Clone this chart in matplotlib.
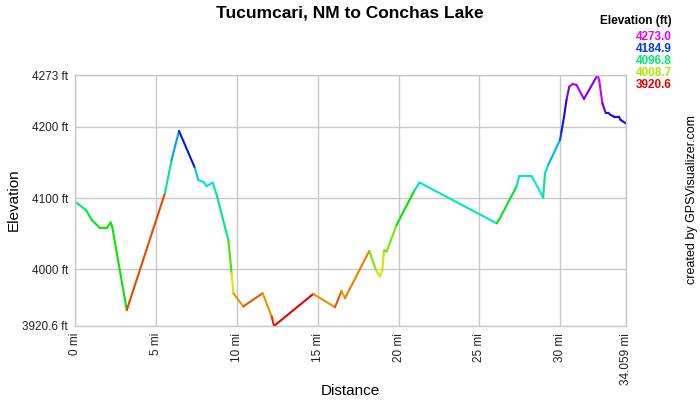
import numpy as np
import matplotlib.pyplot as plt
from matplotlib.collections import LineCollection
import colorsys

plt.rcParams["font.family"] = ["Liberation Sans", "DejaVu Sans"]

# track profile (miles, feet)
dist = [0.0, 0.68, 1.03, 1.55, 1.96, 2.2, 2.3, 3.2, 5.56, 5.97, 6.43, 7.42, 7.62,
        7.93, 8.14, 8.51, 8.76, 9.48, 9.68, 9.79, 10.4, 11.6, 12.16, 12.3, 14.73,
        16.07, 16.48, 16.69, 18.19, 18.6, 18.85, 19.0, 19.1, 19.26, 19.88, 21.0,
        21.3, 26.06, 26.27, 27.3, 27.46, 28.23, 28.94, 29.05, 29.25, 29.98, 30.07,
        30.23, 30.38, 30.55, 30.76, 31.0, 31.46, 32.3, 32.4, 32.6, 32.8, 32.96,
        33.1, 33.33, 33.62, 33.72, 34.059]
elev = [4095, 4083.5, 4069.5, 4058, 4058, 4066, 4060, 3943, 4107, 4153.7, 4194.4,
        4142, 4125.6, 4123, 4117, 4122, 4104.6, 4041, 3994.7, 3966.6, 3948, 3966.6,
        3933.8, 3920.6, 3965.6, 3947, 3970, 3959.6, 4026, 3999.3, 3990, 3999, 4027,
        4025, 4062.5, 4111.6, 4122, 4064.8, 4072, 4117, 4131, 4131, 4101, 4135,
        4146.7, 4181.8, 4193.4, 4214.5, 4238, 4256.6, 4260.4, 4259, 4239.3, 4273,
        4266, 4233, 4220, 4220, 4217, 4214.5, 4214.5, 4210, 4205]

legend_vals = [4273.0, 4184.9, 4096.8, 4008.7, 3920.6]
y_ticks = [3920.6, 4000, 4100, 4200, 4273]
y_labels = ["3920.6 ft", "4000 ft", "4100 ft", "4200 ft", "4273 ft"]
x_ticks = [0, 5, 10, 15, 20, 25, 30, 34.059]
x_labels = ["0 mi", "5 mi", "10 mi", "15 mi", "20 mi", "25 mi", "30 mi", "34.059 mi"]

lo, hi = 3920.6, 4273.0


def elev_color(e):
    f = (e - lo) / (hi - lo)
    return colorsys.hsv_to_rgb(f * 300 / 360, 1.0, 0.9)


fig = plt.figure(figsize=(7, 4), dpi=100)
ax = fig.add_axes([75 / 700, 1 - 326 / 400, 551 / 700, 251 / 400])

pts = np.column_stack([dist, elev])
segs = np.stack([pts[:-1], pts[1:]], axis=1)
colors = [elev_color(e) for e in elev[:-1]]
ax.add_collection(LineCollection(segs, colors=colors, linewidths=1.5, capstyle="round"))

ax.set_xlim(0, 34.059)
ax.set_ylim(lo, hi)
ax.set_xticks(x_ticks)
ax.set_xticklabels(x_labels, rotation=90, fontsize=8.5, color="#222222")
ax.set_yticks(y_ticks)
ax.set_yticklabels(y_labels, fontsize=8.5, color="#222222")
ax.tick_params(length=0, pad=5)
ax.grid(True, color="#c8c8c8", linewidth=1)
for s in ax.spines.values():
    s.set_color("#c8c8c8")
    s.set_linewidth(1)

fig.text(350 / 700, 1 - 391 / 400, "Distance", ha="center", va="center", fontsize=11)
fig.text(14 / 700, 1 - 200 / 400, "Elevation", rotation=90, ha="center", va="center",
         fontsize=11)

fig.text(0.5, 1 - 13 / 400, "Tucumcari, NM to Conchas Lake", ha="center", va="center",
         fontsize=12.5, fontweight="bold")
fig.text(672 / 700, 1 - 21 / 400, "Elevation (ft)", ha="right", va="center",
         fontsize=8.5, fontweight="bold")
for i, v in enumerate(legend_vals):
    fig.text(672 / 700, 1 - (37 + i * 12) / 400, f"{v:.1f}", ha="right", va="center",
             fontsize=8.5, fontweight="bold", color=elev_color(v))
fig.text(692 / 700, 0.5, "created by GPSVisualizer.com", rotation=90, ha="center",
         va="center", fontsize=9)

fig.savefig("out.png", dpi=100)
